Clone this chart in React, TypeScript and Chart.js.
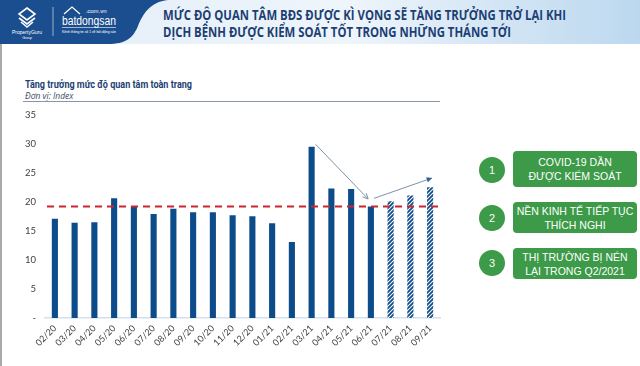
import React, { useEffect, useRef } from "react";
import { Chart, registerables } from "chart.js";

Chart.register(...registerables);

// ---- data ----
const categories = [
  "02/20", "03/20", "04/20", "05/20", "06/20", "07/20", "08/20", "09/20", "10/20", "11/20",
  "12/20", "01/21", "02/21", "03/21", "04/21", "05/21", "06/21", "07/21", "08/21", "09/21",
];
const values = [
  17.1, 16.4, 16.5, 20.6, 19.2, 17.9, 18.8, 18.2, 18.2, 17.7,
  17.5, 16.3, 13.1, 29.5, 22.3, 22.2, 19.2, 20.1, 21.1, 22.5,
];
const forecastStartIndex = 17; // 07/21 onwards are projections
const averageValue = 19.2;
const yMin = 0;
const yMax = 35;
const yStep = 5;
// arrows in data coordinates: [categoryIndex, value]
const arrowFrom = [[13.2, 29.9], [16.16, 20.6]];
const arrowTo = [[15.86, 20.5], [19.1, 24.1]];
const arrowHeads = ["open", "filled"];

const titleLines = [
  "MỨC ĐỘ QUAN TÂM BĐS ĐƯỢC KÌ VỌNG SẼ TĂNG TRƯỞNG TRỞ LẠI KHI",
  "DỊCH BỆNH ĐƯỢC KIỂM SOÁT TỐT TRONG NHỮNG THÁNG TỚI",
];
const chartTitle = "Tăng trưởng mức độ quan tâm toàn trang";
const chartUnit = "Đơn vị: Index";
const factorNumbers = ["1", "2", "3"];
const factorTexts = [
  ["COVID-19 DẦN", "ĐƯỢC KIỂM SOÁT"],
  ["NỀN KINH TẾ TIẾP TỤC", "THÍCH NGHI"],
  ["THỊ TRƯỜNG BỊ NÉN", "LẠI TRONG Q2/2021"],
];

const BAR_BLUE = "#0c4c8a";
const NAVY = "#1d3f73";
const GREEN = "#3c9a48";

function makeHatch(): CanvasPattern | string {
  const c = document.createElement("canvas");
  c.width = 4;
  c.height = 4;
  const g = c.getContext("2d");
  if (!g) return BAR_BLUE;
  g.fillStyle = "#ffffff";
  g.fillRect(0, 0, 4, 4);
  g.strokeStyle = BAR_BLUE;
  g.lineWidth = 1.8;
  g.beginPath();
  g.moveTo(-1, 5);
  g.lineTo(5, -1);
  g.moveTo(-1, 1);
  g.lineTo(1, -1);
  g.moveTo(3, 5);
  g.lineTo(5, 3);
  g.stroke();
  const p = g.createPattern(c, "repeat");
  return p || BAR_BLUE;
}

const overlayPlugin = {
  id: "overlay",
  afterDatasetsDraw(chart: any) {
    const { ctx, chartArea, scales } = chart;
    const xs = scales.x;
    const ys = scales.y;
    // average dashed line
    const yy = ys.getPixelForValue(averageValue);
    ctx.save();
    ctx.strokeStyle = "#c8282d";
    ctx.lineWidth = 2;
    ctx.setLineDash([7, 5]);
    ctx.beginPath();
    ctx.moveTo(chartArea.left + 2, yy);
    ctx.lineTo(chartArea.right, yy);
    ctx.stroke();
    ctx.setLineDash([]);
    // arrows
    ctx.strokeStyle = "#7d91ab";
    ctx.fillStyle = "#2e5f98";
    ctx.lineWidth = 1;
    for (let i = 0; i < arrowFrom.length; i++) {
      const x1 = xs.getPixelForValue(arrowFrom[i][0]);
      const y1 = ys.getPixelForValue(arrowFrom[i][1]);
      const x2 = xs.getPixelForValue(arrowTo[i][0]);
      const y2 = ys.getPixelForValue(arrowTo[i][1]);
      ctx.beginPath();
      ctx.moveTo(x1, y1);
      ctx.lineTo(x2, y2);
      ctx.stroke();
      const a = Math.atan2(y2 - y1, x2 - x1);
      const L = 6;
      const w = 0.45;
      const ax = x2 - L * Math.cos(a - w);
      const ay = y2 - L * Math.sin(a - w);
      const bx = x2 - L * Math.cos(a + w);
      const by = y2 - L * Math.sin(a + w);
      ctx.beginPath();
      if (arrowHeads[i] === "open") {
        ctx.moveTo(ax, ay);
        ctx.lineTo(x2, y2);
        ctx.lineTo(bx, by);
        ctx.stroke();
      } else {
        ctx.moveTo(ax, ay);
        ctx.lineTo(x2, y2);
        ctx.lineTo(bx, by);
        ctx.closePath();
        ctx.fill();
      }
    }
    ctx.restore();
  },
};

function BarChart() {
  const ref = useRef<HTMLCanvasElement | null>(null);
  useEffect(() => {
    if (!ref.current) return;
    const hatch = makeHatch();
    const colors = values.map((_, i) => (i >= forecastStartIndex ? hatch : BAR_BLUE));
    const chart = new Chart(ref.current, {
      type: "bar",
      data: {
        labels: categories,
        datasets: [
          {
            data: values,
            backgroundColor: colors as any,
            borderWidth: 0,
            barPercentage: 0.62,
            categoryPercentage: 0.5,
          },
        ],
      },
      options: {
        animation: false,
        responsive: false,
        layout: { padding: { top: 13, right: 5, left: 0, bottom: 0 } },
        plugins: {
          legend: { display: false },
          tooltip: { enabled: false },
        },
        scales: {
          x: {
            grid: { display: false, drawTicks: false },
            border: { display: true, color: "#d3e0ee", width: 1.5 },
            ticks: {
              color: "#404040",
              font: { family: "Lato", size: 9 },
              minRotation: 45,
              maxRotation: 45,
              padding: 5,
              autoSkip: false,
            },
            afterFit(scale: any) {
              scale.height = 48;
            },
          },
          y: {
            min: yMin,
            max: yMax,
            grid: { display: false, drawTicks: false },
            border: { display: false },
            ticks: {
              stepSize: yStep,
              color: "#404040",
              font: { family: "Lato", size: 9.5 },
              padding: 9,
              callback: (v: any) => (Number(v) === 0 ? "-" : String(v)),
            },
            afterFit(scale: any) {
              scale.width = 45;
            },
          },
        },
      },
      plugins: [overlayPlugin],
    });
    return () => chart.destroy();
  }, []);
  return <canvas ref={ref} width={445} height={266} style={{ width: 445, height: 266, display: "block" }} />;
}

function Header() {
  return (
    <svg width={640} height={46} style={{ position: "absolute", left: 0, top: 0 }}>
      <defs>
        <linearGradient id="hg" x1="0" y1="0" x2="1" y2="0">
          <stop offset="0" stopColor="#e3eef8" />
          <stop offset="0.55" stopColor="#eef5fb" />
          <stop offset="0.75" stopColor="#d6e7f5" />
          <stop offset="1" stopColor="#bcd8ef" />
        </linearGradient>
      </defs>
      <rect x={0} y={0} width={640} height={44} fill="url(#hg)" />
      <path d="M0 0 H168 C150 2 143 14 138 26 C133 38 126 44 108 44 H0 Z" fill="#1b4e8e" />
      {/* PropertyGuru mark */}
      <g stroke="#ffffff" strokeWidth={1.6} fill="none">
        <path d="M27 8 L35 14 L27 20 L19 14 Z" />
        <path d="M19 18 L27 24 L35 18" />
        <path d="M21 22 L27 27 L33 22" />
      </g>
      <text x={27} y={34} fill="#ffffff" fontSize={5} fontFamily="Liberation Sans" textAnchor="middle">PropertyGuru</text>
      <text x={27} y={38.5} fill="#ffffff" fontSize={3.5} fontFamily="Liberation Sans" textAnchor="middle">Group</text>
      <line x1={53} y1={7} x2={53} y2={36} stroke="#ffffff" strokeOpacity={0.7} strokeWidth={0.8} />
      {/* batdongsan mark */}
      <path d="M64 14 L72 7 L80 14" stroke="#ffffff" strokeWidth={1.2} fill="none" />
      <text x={96} y={13} fill="#ffffff" fontSize={6} fontFamily="Liberation Sans" textAnchor="middle">.com.vn</text>
      <text x={62} y={25} fill="#ffffff" fontSize={12} fontFamily="Liberation Sans" textLength={54} lengthAdjust="spacingAndGlyphs">batdongsan</text>
      <line x1={62} y1={27.5} x2={116} y2={27.5} stroke="#ffffff" strokeWidth={0.6} />
      <text x={62} y={32.5} fill="#ffffff" fontSize={3.5} fontFamily="Liberation Sans" textLength={54}>Kênh thông tin số 1 về bất động sản</text>
      <text x={163} y={20} fill={NAVY} fontSize={13.5} fontWeight={700} fontFamily="Open Sans" textLength={403} lengthAdjust="spacingAndGlyphs">{titleLines[0]}</text>
      <text x={163} y={37} fill={NAVY} fontSize={13.5} fontWeight={700} fontFamily="Open Sans" textLength={348} lengthAdjust="spacingAndGlyphs">{titleLines[1]}</text>
      <text x={25} y={88} />
    </svg>
  );
}

function Factors() {
  const circleY = [170, 218, 263];
  const boxTop = [151, 202, 248];
  const boxH = [36, 31, 31];
  return (
    <>
      {factorNumbers.map((n, i) => (
        <React.Fragment key={n}>
          <div
            style={{
              position: "absolute",
              left: 492 - 13,
              top: circleY[i] - 13,
              width: 26,
              height: 26,
              borderRadius: 13,
              background: GREEN,
              color: "#fff",
              fontFamily: "Liberation Sans",
              fontSize: 11,
              display: "flex",
              alignItems: "center",
              justifyContent: "center",
            }}
          >
            {n}
          </div>
          <div
            style={{
              position: "absolute",
              left: 513,
              top: boxTop[i],
              width: 124,
              height: boxH[i],
              borderRadius: 4,
              background: GREEN,
              color: "#fff",
              fontFamily: "Liberation Sans",
              fontSize: 10.5,
              lineHeight: "14px",
              display: "flex",
              flexDirection: "column",
              alignItems: "center",
              justifyContent: "center",
              textAlign: "center",
              whiteSpace: "nowrap",
            }}
          >
            <div>{factorTexts[i][0]}</div>
            <div>{factorTexts[i][1]}</div>
          </div>
        </React.Fragment>
      ))}
    </>
  );
}

export default function App() {
  return (
    <div
      style={{
        position: "fixed",
        left: 0,
        top: 0,
        width: 640,
        height: 366,
        background: "#ffffff",
        overflow: "hidden",
      }}
    >
      <Header />
      <div style={{ position: "absolute", left: 0, top: 44, width: 2, height: 322, background: "#a9a9a9" }} />
      <svg width={220} height={30} style={{ position: "absolute", left: 0, top: 74 }}>
        <text
          x={25}
          y={14}
          fill={NAVY}
          fontFamily="Roboto"
          fontWeight={700}
          fontSize={10}
          textLength={167}
          lengthAdjust="spacingAndGlyphs"
        >
          {chartTitle}
        </text>
        <text x={25} y={25} fill="#3a4a5e" fontFamily="Open Sans" fontStyle="italic" fontSize={8.5}>
          {chartUnit}
        </text>
      </svg>
      <div style={{ position: "absolute", left: 23, top: 101, width: 417, height: 1, background: "#8797ab" }} />
      <div style={{ position: "absolute", left: 0, top: 100 }}>
        <BarChart />
      </div>
      <Factors />
    </div>
  );
}
